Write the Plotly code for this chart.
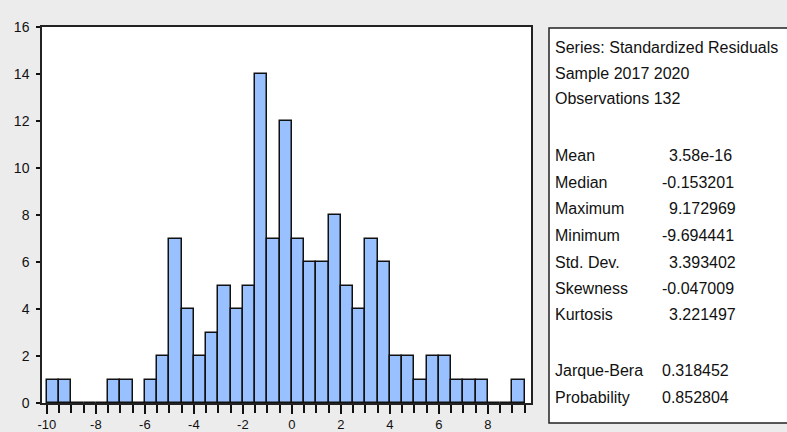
import plotly.graph_objects as go

bin_left = [-10, -9.5, -9, -8.5, -8, -7.5, -7, -6.5, -6, -5.5, -5, -4.5, -4, -3.5, -3, -2.5,
            -2, -1.5, -1, -0.5, 0, 0.5, 1, 1.5, 2, 2.5, 3, 3.5, 4, 4.5, 5, 5.5, 6, 6.5,
            7, 7.5, 8, 8.5, 9]
counts = [1, 1, 0, 0, 0, 1, 1, 0, 1, 2, 7, 4, 2, 3, 5, 4,
          5, 14, 7, 12, 7, 6, 6, 8, 5, 4, 7, 6, 2, 2, 1, 2, 2, 1,
          1, 1, 0, 0, 1]
bin_width = 0.5

x_tick_vals = [-10, -8, -6, -4, -2, 0, 2, 4, 6, 8]
x_tick_text = ["-10", "-8", "-6", "-4", "-2", "0", "2", "4", "6", "8"]

stat_header = ["Series: Standardized Residuals", "Sample 2017 2020", "Observations 132"]
stat_names = ["Mean", "Median", "Maximum", "Minimum", "Std. Dev.", "Skewness", "Kurtosis"]
stat_values = [" 3.58e-16", "-0.153201", " 9.172969", "-9.694441", " 3.393402", "-0.047009", " 3.221497"]
test_names = ["Jarque-Bera", "Probability"]
test_values = ["0.318452", "0.852804"]

FONT = "Liberation Sans, Arial, sans-serif"

fig = go.Figure()
fig.add_trace(go.Bar(
    x=[b + bin_width / 2 for b in bin_left],
    y=counts,
    width=bin_width,
    marker=dict(color="#99c0ff", line=dict(color="#111111", width=1.5)),
    hoverinfo="skip",
))

W, H = 787, 432
L, R, T, B = 42, 256, 27, 29

fig.update_layout(
    width=W, height=H,
    margin=dict(l=L, r=R, t=T, b=B, autoexpand=False),
    paper_bgcolor="#ececec",
    plot_bgcolor="white",
    showlegend=False,
    bargap=0,
    font=dict(family=FONT, size=14, color="#111111"),
    xaxis=dict(
        range=[-10.2, 9.76],
        tickmode="array", tickvals=x_tick_vals, ticktext=x_tick_text,
        ticks="outside", ticklen=9, tickwidth=1.5, tickcolor="#111111",
        minor=dict(dtick=0.5, tick0=-10, ticks="outside", ticklen=8, tickwidth=1.5, tickcolor="#111111"),
        showline=True, linecolor="#222222", linewidth=1.5, mirror=True,
        showgrid=False, zeroline=False,
        ticklabelstandoff=0,
        automargin=False,
        tickfont=dict(family=FONT, size=13),
    ),
    yaxis=dict(
        range=[0, 16],
        tickmode="linear", tick0=0, dtick=2,
        ticks="outside", ticklen=4, tickwidth=1.5, tickcolor="#111111",
        showline=True, linecolor="#222222", linewidth=1.5, mirror=True,
        showgrid=False, zeroline=False,
        ticklabelstandoff=4,
        automargin=False,
        tickfont=dict(family=FONT, size=14),
    ),
)

# stats box
def px_x(p):
    return (p - L) / (W - L - R)

def px_y(p):
    return 1 - (p - T) / (H - T - B)

fig.add_shape(type="rect", xref="paper", yref="paper",
              x0=px_x(549), x1=px_x(800), y0=px_y(423), y1=px_y(28),
              fillcolor="white", line=dict(color="#222222", width=1.5), layer="above")

FS = 16
y_pos = [48, 73, 99]
for txt, yy in zip(stat_header, y_pos):
    fig.add_annotation(xref="paper", yref="paper", x=px_x(553), y=px_y(yy), text=txt,
                       showarrow=False, xanchor="left", yanchor="middle",
                       font=dict(family=FONT, size=FS, color="#111111"))

y_stats = [155, 182, 208, 235, 262, 288, 314]
for name, val, yy in zip(stat_names, stat_values, y_stats):
    fig.add_annotation(xref="paper", yref="paper", x=px_x(553), y=px_y(yy), text=name,
                       showarrow=False, xanchor="left", yanchor="middle",
                       font=dict(family=FONT, size=FS, color="#111111"))
    xv = 667 if not val.startswith("-") else 660
    fig.add_annotation(xref="paper", yref="paper", x=px_x(xv), y=px_y(yy), text=val.strip(),
                       showarrow=False, xanchor="left", yanchor="middle",
                       font=dict(family=FONT, size=FS, color="#111111"))

y_tests = [370, 397]
for name, val, yy in zip(test_names, test_values, y_tests):
    fig.add_annotation(xref="paper", yref="paper", x=px_x(553), y=px_y(yy), text=name,
                       showarrow=False, xanchor="left", yanchor="middle",
                       font=dict(family=FONT, size=FS, color="#111111"))
    fig.add_annotation(xref="paper", yref="paper", x=px_x(660), y=px_y(yy), text=val,
                       showarrow=False, xanchor="left", yanchor="middle",
                       font=dict(family=FONT, size=FS, color="#111111"))

fig.write_html("out.html", config={"displayModeBar": False},
               post_script="document.body.style.margin='0';document.body.style.background='#ececec';")
